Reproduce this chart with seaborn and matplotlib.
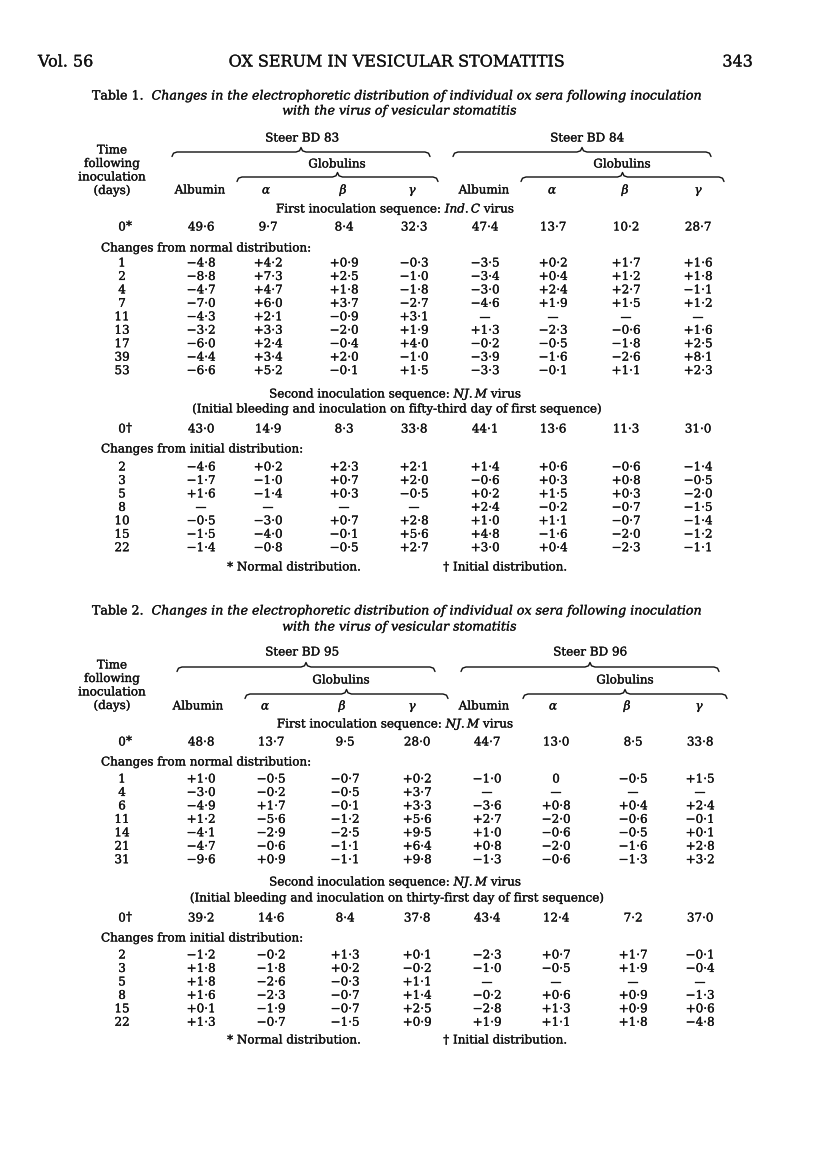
import numpy as np
import pandas as pd
import seaborn as sns
import matplotlib
matplotlib.use("Agg")
import matplotlib.pyplot as plt
import matplotlib.patheffects as pe

sns.set_theme(style="white")
plt.rcParams['font.family'] = ['DejaVu Serif', 'Liberation Serif']
plt.rcParams['mathtext.fontset'] = 'custom'
plt.rcParams['mathtext.rm'] = 'DejaVu Serif'
plt.rcParams['mathtext.it'] = 'DejaVu Serif:italic'

# ---------------- DATA ----------------
columns = ["Albumin", "α", "β", "γ"]

# Table 1
t1_steers = ["Steer BD 83", "Steer BD 84"]
t1_seq1_title = "First inoculation sequence: $\\mathit{Ind.C}$ virus"
t1_seq1_normal = [49.6, 9.7, 8.4, 32.3, 47.4, 13.7, 10.2, 28.7]
t1_seq1_days = ["1", "2", "4", "7", "11", "13", "17", "39", "53"]
t1_seq1_bd83_alb = [-4.8, -8.8, -4.7, -7.0, -4.3, -3.2, -6.0, -4.4, -6.6]
t1_seq1_bd83_a = [4.2, 7.3, 4.7, 6.0, 2.1, 3.3, 2.4, 3.4, 5.2]
t1_seq1_bd83_b = [0.9, 2.5, 1.8, 3.7, -0.9, -2.0, -0.4, 2.0, -0.1]
t1_seq1_bd83_g = [-0.3, -1.0, -1.8, -2.7, 3.1, 1.9, 4.0, -1.0, 1.5]
t1_seq1_bd84_alb = [-3.5, -3.4, -3.0, -4.6, None, 1.3, -0.2, -3.9, -3.3]
t1_seq1_bd84_a = [0.2, 0.4, 2.4, 1.9, None, -2.3, -0.5, -1.6, -0.1]
t1_seq1_bd84_b = [1.7, 1.2, 2.7, 1.5, None, -0.6, -1.8, -2.6, 1.1]
t1_seq1_bd84_g = [1.6, 1.8, -1.1, 1.2, None, 1.6, 2.5, 8.1, 2.3]

t1_seq2_title = "Second inoculation sequence: $\\mathit{NJ.M}$ virus"
t1_seq2_note = "(Initial bleeding and inoculation on fifty-third day of first sequence)"
t1_seq2_initial = [43.0, 14.9, 8.3, 33.8, 44.1, 13.6, 11.3, 31.0]
t1_seq2_days = ["2", "3", "5", "8", "10", "15", "22"]
t1_seq2_bd83_alb = [-4.6, -1.7, 1.6, None, -0.5, -1.5, -1.4]
t1_seq2_bd83_a = [0.2, -1.0, -1.4, None, -3.0, -4.0, -0.8]
t1_seq2_bd83_b = [2.3, 0.7, 0.3, None, 0.7, -0.1, -0.5]
t1_seq2_bd83_g = [2.1, 2.0, -0.5, None, 2.8, 5.6, 2.7]
t1_seq2_bd84_alb = [1.4, -0.6, 0.2, 2.4, 1.0, 4.8, 3.0]
t1_seq2_bd84_a = [0.6, 0.3, 1.5, -0.2, 1.1, -1.6, 0.4]
t1_seq2_bd84_b = [-0.6, 0.8, 0.3, -0.7, -0.7, -2.0, -2.3]
t1_seq2_bd84_g = [-1.4, -0.5, -2.0, -1.5, -1.4, -1.2, -1.1]

# Table 2
t2_steers = ["Steer BD 95", "Steer BD 96"]
t2_seq1_title = "First inoculation sequence: $\\mathit{NJ.M}$ virus"
t2_seq1_normal = [48.8, 13.7, 9.5, 28.0, 44.7, 13.0, 8.5, 33.8]
t2_seq1_days = ["1", "4", "6", "11", "14", "21", "31"]
t2_seq1_bd95_alb = [1.0, -3.0, -4.9, 1.2, -4.1, -4.7, -9.6]
t2_seq1_bd95_a = [-0.5, -0.2, 1.7, -5.6, -2.9, -0.6, 0.9]
t2_seq1_bd95_b = [-0.7, -0.5, -0.1, -1.2, -2.5, -1.1, -1.1]
t2_seq1_bd95_g = [0.2, 3.7, 3.3, 5.6, 9.5, 6.4, 9.8]
t2_seq1_bd96_alb = [-1.0, None, -3.6, 2.7, 1.0, 0.8, -1.3]
t2_seq1_bd96_a = [0.0, None, 0.8, -2.0, -0.6, -2.0, -0.6]
t2_seq1_bd96_b = [-0.5, None, 0.4, -0.6, -0.5, -1.6, -1.3]
t2_seq1_bd96_g = [1.5, None, 2.4, -0.1, 0.1, 2.8, 3.2]

t2_seq2_title = "Second inoculation sequence: $\\mathit{NJ.M}$ virus"
t2_seq2_note = "(Initial bleeding and inoculation on thirty-first day of first sequence)"
t2_seq2_initial = [39.2, 14.6, 8.4, 37.8, 43.4, 12.4, 7.2, 37.0]
t2_seq2_days = ["2", "3", "5", "8", "15", "22"]
t2_seq2_bd95_alb = [-1.2, 1.8, 1.8, 1.6, 0.1, 1.3]
t2_seq2_bd95_a = [-0.2, -1.8, -2.6, -2.3, -1.9, -0.7]
t2_seq2_bd95_b = [1.3, 0.2, -0.3, -0.7, -0.7, -1.5]
t2_seq2_bd95_g = [0.1, -0.2, 1.1, 1.4, 2.5, 0.9]
t2_seq2_bd96_alb = [-2.3, -1.0, None, -0.2, -2.8, 1.9]
t2_seq2_bd96_a = [0.7, -0.5, None, 0.6, 1.3, 1.1]
t2_seq2_bd96_b = [1.7, 1.9, None, 0.9, 0.9, 1.8]
t2_seq2_bd96_g = [-0.1, -0.4, None, -1.3, 0.6, -4.8]

caption_text = ("Changes in the electrophoretic distribution of individual ox sera "
                "following inoculation")
caption_text2 = "with the virus of vesicular stomatitis"

# ---------------- HELPERS ----------------
INK = "#111111"
FS = 8.6
ROW = 13.45
HEAVY = [pe.withStroke(linewidth=0.22, foreground=INK)]


def isnone(v):
    return v is None or (isinstance(v, float) and np.isnan(v))


def fmt_base(v):
    return f"{v:.1f}".replace(".", "·")


def fmt_change(v):
    if isnone(v):
        return "—"
    if v == 0:
        return "0"
    sign = "+" if v > 0 else "−"
    return sign + f"{abs(v):.1f}".replace(".", "·")


def mit(s):
    return "$\\mathit{" + s.replace(" ", "\\ ") + "}$"


def brace(ax, x0, x1, y, h=4.5):
    xm = (x0 + x1) / 2
    xs = [x0, x0 + 1.5, x0 + 5, xm - 5, xm - 1.5, xm, xm + 1.5, xm + 5, x1 - 5, x1 - 1.5, x1]
    ys = [y + h, y + 1.2, y, y, y - 1.2, y - h, y - 1.2, y, y, y + 1.2, y + h]
    ax.plot(xs, ys, color=INK, lw=1.0, solid_capstyle="round")


def txt(ax, x, y, s, ha="center", **kw):
    kw.setdefault("fontsize", FS)
    ax.text(x, y, s, ha=ha, va="center", color=INK, path_effects=HEAVY, **kw)


def draw_table(ax, num, steers, cols_x, hdr_x, labx, yy, seqs, braces, steer_x, glob_x):
    txt(ax, 397, yy["cap1"], f"Table {num}.  " + mit(caption_text), fontsize=9.1)
    txt(ax, 400, yy["cap2"], mit(caption_text2), fontsize=9.1)
    for i, w in enumerate(["Time", "following", "inoculation", "(days)"]):
        txt(ax, labx - 10, yy["time"] + i * 13.5, w)
    (o0, o1, g0, g1) = braces
    for k in range(2):
        txt(ax, steer_x[k], yy["steer"], steers[k])
        brace(ax, o0[k], o1[k], yy["brace1"])
        txt(ax, glob_x[k], yy["glob"], "Globulins")
        brace(ax, g0[k], g1[k], yy["brace2"])
        for j, c in enumerate(columns):
            txt(ax, hdr_x[4 * k + j], yy["colhdr"], c, style="italic" if j > 0 else "normal")
    for seq in seqs:
        txt(ax, 395, seq["y_title"], seq["title"])
        if seq.get("note"):
            txt(ax, 397, seq["y_note"], seq["note"])
        yb = seq["y_base"]
        txt(ax, labx, yb, "0")
        txt(ax, labx + 4, yb - 1, seq["mark"], ha="left")
        for j, v in enumerate(seq["base"]):
            txt(ax, cols_x[j], yb, fmt_base(v))
        txt(ax, 101, seq["y_changes"], seq["changes"], ha="left")
        df = pd.DataFrame(seq["cols"], dtype=object).T
        for r, d in enumerate(seq["days"]):
            yr = seq["y_row0"] + r * ROW
            txt(ax, labx, yr, d)
            for j in range(8):
                txt(ax, cols_x[j], yr, fmt_change(df.iloc[r, j]))
    txt(ax, 294, yy["foot"], "* Normal distribution.")
    txt(ax, 505, yy["foot"], "† Initial distribution.")


# ---------------- FIGURE ----------------
fig = plt.figure(figsize=(8.16, 11.64), dpi=100)
fig.patch.set_facecolor("white")
ax = fig.add_axes([0, 0, 1, 1])
ax.set_xlim(0, 816)
ax.set_ylim(1164, 0)
ax.axis("off")

# page header
txt(ax, 38, 62, "Vol. 56", ha="left", fontsize=11.5)
txt(ax, 397, 62, "OX SERUM IN VESICULAR STOMATITIS", fontsize=11.5)
txt(ax, 753, 62, "343", ha="right", fontsize=11.5)

t1_cols = [201, 268, 344, 414, 485, 553, 626, 698]
draw_table(
    ax, 1, t1_steers, t1_cols, [200, 266, 343, 412, 484, 552, 625, 698], 122,
    dict(cap1=96, cap2=111, steer=138, brace1=152, glob=164, brace2=177, colhdr=190, time=150, foot=567),
    [
        dict(y_title=209, y_base=227, y_changes=248, y_row0=263, mark="*", title=t1_seq1_title,
             base=t1_seq1_normal, changes="Changes from normal distribution:", days=t1_seq1_days,
             cols=[t1_seq1_bd83_alb, t1_seq1_bd83_a, t1_seq1_bd83_b, t1_seq1_bd83_g,
                   t1_seq1_bd84_alb, t1_seq1_bd84_a, t1_seq1_bd84_b, t1_seq1_bd84_g]),
        dict(y_title=394, y_note=409, y_base=429, y_changes=449, y_row0=467, mark="†",
             title=t1_seq2_title, note=t1_seq2_note, base=t1_seq2_initial,
             changes="Changes from initial distribution:", days=t1_seq2_days,
             cols=[t1_seq2_bd83_alb, t1_seq2_bd83_a, t1_seq2_bd83_b, t1_seq2_bd83_g,
                   t1_seq2_bd84_alb, t1_seq2_bd84_a, t1_seq2_bd84_b, t1_seq2_bd84_g]),
    ],
    ([172, 453], [430, 711], [237, 521], [438, 724]),
    [302, 587], [337, 622],
)

t2_cols = [201, 271, 345, 417, 487, 556, 633, 700]
draw_table(
    ax, 2, t2_steers, t2_cols, [198, 265, 342, 412, 484, 553, 627, 699], 122,
    dict(cap1=611, cap2=627, steer=652, brace1=667, glob=680, brace2=694, colhdr=706, time=665, foot=1040),
    [
        dict(y_title=724, y_base=742, y_changes=762, y_row0=779, mark="*", title=t2_seq1_title,
             base=t2_seq1_normal, changes="Changes from normal distribution:", days=t2_seq1_days,
             cols=[t2_seq1_bd95_alb, t2_seq1_bd95_a, t2_seq1_bd95_b, t2_seq1_bd95_g,
                   t2_seq1_bd96_alb, t2_seq1_bd96_a, t2_seq1_bd96_b, t2_seq1_bd96_g]),
        dict(y_title=882, y_note=898, y_base=918, y_changes=938, y_row0=955, mark="†",
             title=t2_seq2_title, note=t2_seq2_note, base=t2_seq2_initial,
             changes="Changes from initial distribution:", days=t2_seq2_days,
             cols=[t2_seq2_bd95_alb, t2_seq2_bd95_a, t2_seq2_bd95_b, t2_seq2_bd95_g,
                   t2_seq2_bd96_alb, t2_seq2_bd96_a, t2_seq2_bd96_b, t2_seq2_bd96_g]),
    ],
    ([177, 461], [435, 719], [245, 523], [448, 727]),
    [302, 590], [341, 625],
)

fig.savefig("out.png", dpi=100, facecolor="white")
